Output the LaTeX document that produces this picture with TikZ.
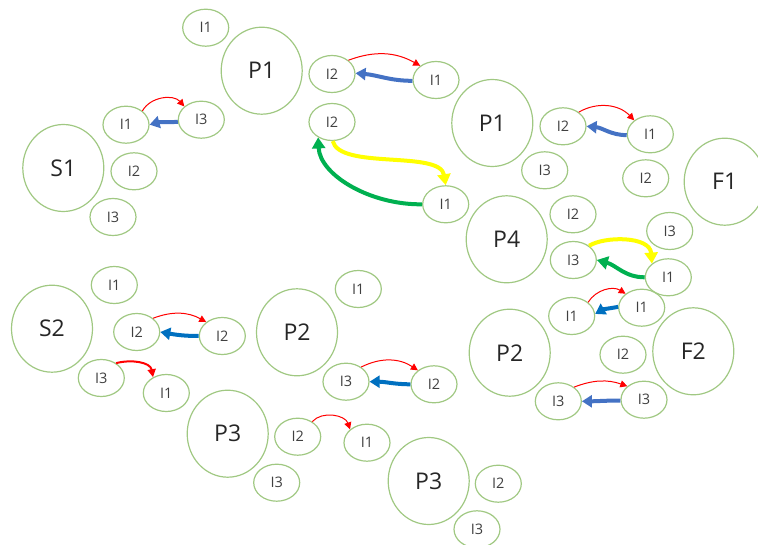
\documentclass[tikz,border=0pt]{standalone}
\usepackage{fontspec}
\setmainfont{Open Sans}
\usetikzlibrary{shapes.geometric,arrows.meta}
\definecolor{ringgreen}{RGB}{160,200,130}
\definecolor{blueA}{HTML}{4472C4}
\definecolor{blueB}{HTML}{0070C0}
\definecolor{yel}{HTML}{FFFF00}
\definecolor{grn}{HTML}{00B050}
\begin{document}
\begin{tikzpicture}[x=1pt,y=1pt,
  big/.style={ellipse, draw=ringgreen, line width=1.2pt, minimum width=81pt, minimum height=87pt, inner sep=0pt, font=\fontsize{23}{23}\selectfont, text=black!85},
  small/.style={ellipse, draw=ringgreen, line width=1.2pt, minimum width=46pt, minimum height=37pt, inner sep=0pt, font=\fontsize{14.5}{14.5}\selectfont, text=black!75},
  redarc/.style={draw=red, line width=1pt, -{Triangle[length=7pt,width=7pt]}},
  redthick/.style={draw=red, line width=2pt, -{Triangle[length=8pt,width=8pt]}},
  bluearrow/.style={line width=4pt, -{Triangle[length=10pt,width=12pt]}},
  fatarrow/.style={line width=4pt, -{Triangle[length=11pt,width=13pt]}}
]
\useasboundingbox (0,-545) rectangle (758,0);
% large ellipses
\node[big] (P1a) at (261.7,-70.7) {P1};
\node[big] (S1) at (63.3,-168) {S1};
\node[big] (P1b) at (492.3,-123) {P1};
\node[big] (F1) at (724.7,-181.7) {F1};
\node[big] (P4) at (506.7,-239.3) {P4};
\node[big] (S2) at (52,-328.7) {S2};
\node[big] (P2a) at (297,-332.3) {P2};
\node[big] (P2b) at (509.7,-352.7) {P2};
\node[big] (F2) at (693.3,-351.3) {F2};
\node[big] (P3a) at (227.7,-433.7) {P3};
\node[big] (P3b) at (428.7,-481) {P3};
% small ellipses
\node[small] (a1) at (205.7,-27.7) {I1};
\node[small] (a2) at (332,-74) {I2};
\node[small] (a3) at (436,-80) {I1};
\node[small] (a4) at (332,-122) {I2};
\node[small] (a5) at (126,-124.7) {I1};
\node[small] (a6) at (201.3,-119.7) {I3};
\node[small] (a7) at (134,-171.3) {I2};
\node[small] (a8) at (113,-217) {I3};
\node[small] (b1) at (563,-126.3) {I2};
\node[small] (b2) at (650.3,-134.3) {I1};
\node[small] (b3) at (544.7,-170.3) {I3};
\node[small] (b4) at (645.7,-178.3) {I2};
\node[small] (b5) at (445.7,-204.3) {I1};
\node[small] (b6) at (573,-214.3) {I2};
\node[small] (b7) at (669.7,-231) {I3};
\node[small] (b8) at (573.3,-260) {I3};
\node[small] (b9) at (668.3,-277.3) {I1};
\node[small] (c1) at (114.3,-285) {I1};
\node[small] (c2) at (136.7,-332) {I2};
\node[small] (c3) at (222.3,-336) {I2};
\node[small] (c4) at (358.3,-289) {I1};
\node[small] (c5) at (101.3,-378) {I3};
\node[small] (c6) at (166.3,-393) {I1};
\node[small] (c7) at (346,-381.7) {I3};
\node[small] (c8) at (434,-384.3) {I2};
\node[small] (c9) at (297.7,-436.7) {I2};
\node[small] (c10) at (367,-442.7) {I1};
\node[small] (c11) at (276.7,-482.7) {I3};
\node[small] (d1) at (571.7,-316) {I1};
\node[small] (d2) at (641.7,-307.7) {I1};
\node[small] (d3) at (623,-354.7) {I2};
\node[small] (d4) at (558.3,-401.3) {I3};
\node[small] (d5) at (644,-399.7) {I3};
\node[small] (d6) at (498.3,-483.7) {I2};
\node[small] (d7) at (477,-529.3) {I3};
% connectors
\draw[redarc] (a2.40) to[bend left=25] (a3.138);
\draw[bluearrow, blueA] (a3.182) to[out=180,in=-5] (a2.2);
\draw[redarc] (a5.40) to[bend left=55] (a6.142);
\draw[bluearrow, blueA] (a6.185) to[out=185,in=15] (a5.0);
\draw[redarc] (b1.42) to[bend left=38] (b2.139);
\draw[bluearrow, blueA] (b2.182) to[out=180,in=-5] (b1.0);
\draw[fatarrow, yel] (a4.272) .. controls (340,-170) and (440,-150) .. (b5.90);
\draw[fatarrow, grn] (b5.180) .. controls (370,-205) and (320,-175) .. (a4.228);
\draw[fatarrow, yel] (b8.42) .. controls (605,-236) and (650,-236) .. (b9.140);
\draw[fatarrow, grn] (b9.180) to[out=180,in=-15] (b8.0);
\draw[redarc] (d1.40) to[bend left=45] (d2.139);
\draw[bluearrow, blueB] (d2.178) to[out=190,in=30] (d1.5);
\draw[redarc] (d4.42) to[bend left=20] (d5.141);
\draw[bluearrow, blueA] (d5.182) to[out=180,in=0] (d4.0);
\draw[redarc] (c2.40) to[bend left=25] (c3.139);
\draw[bluearrow, blueB] (c3.180) to[out=180,in=-10] (c2.0);
\draw[redthick] (c5.45) to[out=15,in=100] (c6.130);
\draw[redarc] (c7.44) to[bend left=30] (c8.139);
\draw[bluearrow, blueB] (c8.180) to[out=180,in=0] (c7.0);
\draw[redarc] (c9.46) to[bend left=60] (c10.142);
\end{tikzpicture}
\end{document}
